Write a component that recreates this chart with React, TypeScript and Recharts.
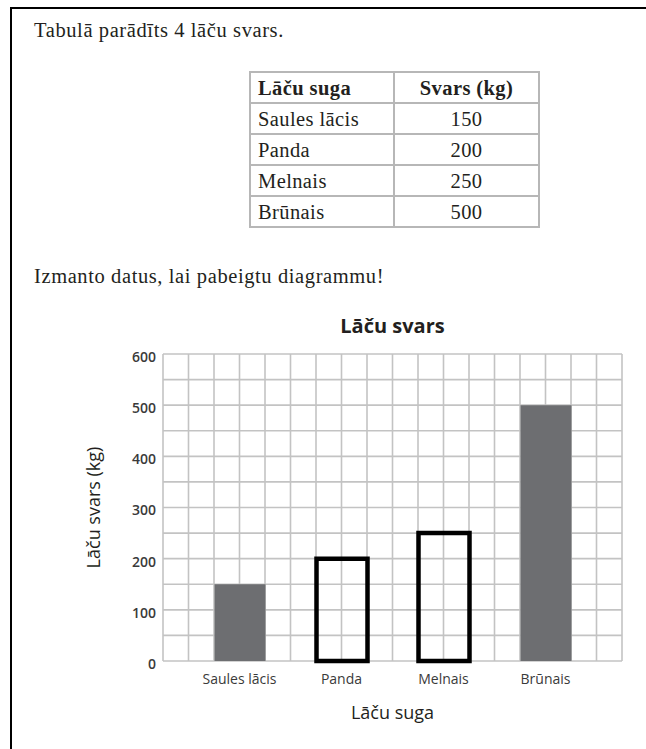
import React from 'react';
import { BarChart, Bar, XAxis, YAxis, CartesianGrid, Cell } from 'recharts';

// bear species and their weight in kg (same numbers as the table)
const bears = ['Saules lācis', 'Panda', 'Melnais', 'Brūnais'];
const weights = [150, 200, 250, 500];
// bars already printed on the sheet, the others are drawn in by the pupil
const printedBars = ['Saules lācis', 'Brūnais'];

const yTicks = [0, 50, 100, 150, 200, 250, 300, 350, 400, 450, 500, 550, 600];
const gridColumns = 18;

const data = bears.map((name, i) => ({ name, weight: weights[i] }));

const serif = '"Liberation Serif", "Times New Roman", serif';
const sans = '"Open Sans", "Noto Sans", sans-serif';

const cellStyle: React.CSSProperties = {
    border: '2px solid #b7b7b7',
    height: 29,
    padding: '0 7px',
    fontSize: 20.5,
    letterSpacing: 0.4,
    lineHeight: '20px',
    color: '#231f20',
};

const textStyle: React.CSSProperties = {
    position: 'absolute',
    left: 34,
    fontSize: 20.5,
    letterSpacing: 0.6,
    lineHeight: '20px',
    whiteSpace: 'nowrap',
};

const App = () => {
    return (
        <div style={{ position: 'absolute', left: 0, top: 0, width: 646, height: 749, background: '#fff', fontFamily: serif, color: '#231f20' }}>
            {/* frame of the task box */}
            <div style={{ position: 'absolute', left: 10, top: 7, width: 636, height: 742, borderTop: '2px solid #000', borderLeft: '2px solid #000', boxSizing: 'border-box' }} />

            <div style={{ ...textStyle, top: 20 }}>Tabulā parādīts 4 lāču svars.</div>

            <table style={{ position: 'absolute', left: 249, top: 71, width: 291, borderCollapse: 'collapse', fontFamily: serif }}>
                <thead>
                    <tr>
                        <th style={{ ...cellStyle, width: 128, textAlign: 'left', fontWeight: 700 }}>Lāču suga</th>
                        <th style={{ ...cellStyle, textAlign: 'center', fontWeight: 700 }}>Svars (kg)</th>
                    </tr>
                </thead>
                <tbody>
                    {bears.map((b, i) => (
                        <tr key={b}>
                            <td style={{ ...cellStyle, textAlign: 'left' }}>{b}</td>
                            <td style={{ ...cellStyle, textAlign: 'center' }}>{weights[i]}</td>
                        </tr>
                    ))}
                </tbody>
            </table>

            <div style={{ ...textStyle, top: 266 }}>Izmanto datus, lai pabeigtu diagrammu!</div>

            <div style={{ position: 'absolute', left: 163, top: 315, width: 459, textAlign: 'center', fontFamily: sans, fontWeight: 700, fontSize: 20, lineHeight: '22px' }}>
                Lāču svars
            </div>

            <div style={{ position: 'absolute', left: 0, top: 300 }}>
                <BarChart width={646} height={449} data={data} margin={{ top: 54, right: 24, left: 113, bottom: 58 }}>
                    <CartesianGrid
                        stroke="#c3c3c3"
                        strokeWidth={1.6}
                        verticalCoordinatesGenerator={({ offset }: any) =>
                            Array.from({ length: gridColumns + 1 }, (_, i) => offset.left + (i * offset.width) / gridColumns)
                        }
                    />
                    <XAxis
                        dataKey="name"
                        height={30}
                        padding={{ left: 25.5, right: 25.5 }}
                        axisLine={false}
                        tickLine={false}
                        tickSize={0}
                        tickMargin={13}
                        tick={{ fill: '#3a3a3a', fontSize: 14, fontFamily: sans }}
                        interval={0}
                        label={{ value: 'Lāču suga', position: 'bottom', offset: 15, style: { fill: '#231f20', fontSize: 18, fontFamily: sans } }}
                    />
                    <YAxis
                        width={50}
                        domain={[0, 600]}
                        ticks={yTicks}
                        interval={0}
                        axisLine={false}
                        tickLine={false}
                        tickSize={0}
                        tickMargin={7}
                        tickFormatter={(v: number) => (v % 100 === 0 ? String(v) : '')}
                        tick={{ fill: '#3a3a3a', fontSize: 14, fontWeight: 600, fontFamily: sans, dy: 3 }}
                        label={{
                            content: (props: any) => {
                                const vb = props.viewBox;
                                const cx = vb.x - 20;
                                const cy = vb.y + vb.height / 2;
                                return (
                                    <text x={cx} y={cy} transform={`rotate(-90, ${cx}, ${cy})`} textAnchor="middle" dominantBaseline="central" fill="#231f20" fontSize={18} fontFamily={sans}>
                                        Lāču svars (kg)
                                    </text>
                                );
                            },
                        }}
                    />
                    <Bar dataKey="weight" barSize={51} isAnimationActive={false}>
                        {data.map((entry) => {
                            const printed = printedBars.includes(entry.name);
                            return (
                                <Cell
                                    key={entry.name}
                                    fill={printed ? '#6d6e71' : 'none'}
                                    stroke={printed ? 'none' : '#000'}
                                    strokeWidth={printed ? 0 : 4.5}
                                />
                            );
                        })}
                    </Bar>
                </BarChart>
            </div>
        </div>
    );
};

export default App;
